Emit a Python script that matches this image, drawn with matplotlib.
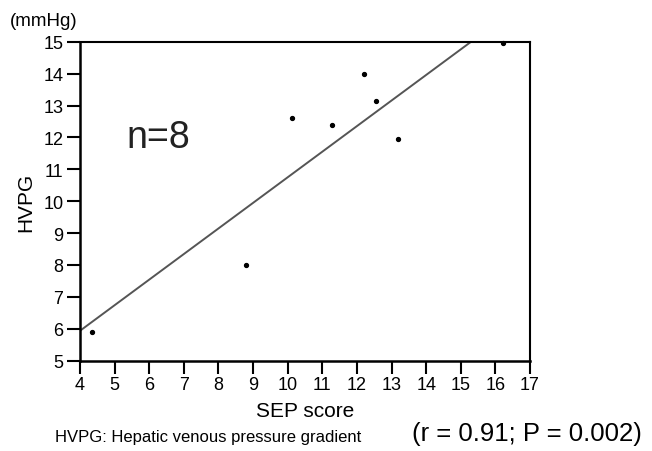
import numpy as np
import matplotlib.pyplot as plt

plt.rcParams['font.family'] = ['Liberation Sans', 'DejaVu Sans']

# SEP score vs HVPG, one point per patient
sep_score = [4.35, 8.79, 10.12, 11.27, 12.2, 12.55, 13.18, 16.23]
hvpg = [5.9, 8.0, 12.6, 12.4, 14.0, 13.15, 11.95, 14.97]

x_ticks = list(range(4, 18))
y_ticks = list(range(5, 16))

fig = plt.figure(figsize=(6.52, 4.52), dpi=100)
ax = fig.add_axes([0.1227, 0.1998, 0.6902, 0.7057])

ax.plot(sep_score, hvpg, 'o', color='black', markersize=2.8, clip_on=False, zorder=3)

# least-squares fit line
slope, icpt = np.polyfit(sep_score, hvpg, 1)
xs = np.array([4, 17])
ax.plot(xs, slope * xs + icpt, color='#555555', linewidth=1.4)

ax.set_xlim(4, 17)
ax.set_ylim(5, 15)
ax.set_xticks(x_ticks)
ax.set_yticks(y_ticks)
ax.tick_params(direction='out', length=9.5, width=1.5, labelsize=13)
ax.tick_params(axis='x', pad=1.5)
ax.tick_params(axis='y', pad=2.5)
for side in ['left', 'bottom']:
    ax.spines[side].set_linewidth(1.8)
for side in ['top', 'right']:
    ax.spines[side].set_linewidth(1.5)

ax.set_xlabel('SEP score', fontsize=15, labelpad=6)
ax.set_ylabel('HVPG', fontsize=15, labelpad=6)

ax.text(6.27, 12.0, 'n=8', fontsize=27, ha='center', va='center', color='#222222')

fig.text(0.015, 0.953, '(mmHg)', fontsize=13.5, ha='left', va='center')
fig.text(0.085, 0.031, 'HVPG: Hepatic venous pressure gradient', fontsize=12,
         ha='left', va='center')
fig.text(0.985, 0.040, '(r = 0.91; P = 0.002)', fontsize=18.5, ha='right', va='center')

fig.savefig('out.png', dpi=100)
